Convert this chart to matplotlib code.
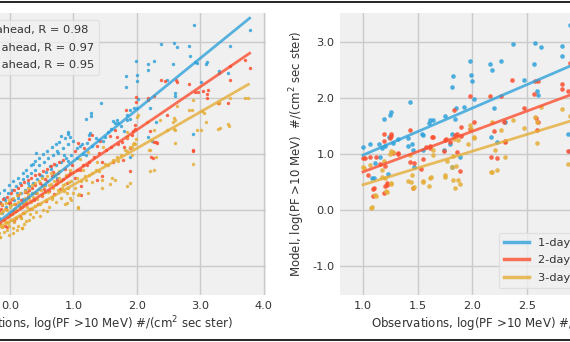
import numpy as np
import matplotlib
matplotlib.use("Agg")
import matplotlib.pyplot as plt
from matplotlib.ticker import FormatStrFormatter, MultipleLocator
from matplotlib.lines import Line2D

# ---- data read off the picture: (observation, model) pairs ----
# left panel, all events
left_1day = [
    (-0.40, -0.30), (-0.35, -0.15), (-0.30, -0.40), (-0.27, -0.05), (-0.24, -0.25), (-0.20, 0.05),
    (-0.17, -0.15), (-0.15, 0.15), (-0.12, -0.05), (-0.09, 0.22), (-0.06, 0.05), (-0.03, 0.30),
    (0.00, 0.10), (0.03, 0.35), (0.06, 0.18), (0.09, 0.42), (0.12, 0.22), (0.15, 0.48), (0.18, 0.30),
    (0.21, 0.55), (0.24, 0.36), (0.27, 0.60), (0.30, 0.42), (0.33, 0.66), (0.36, 0.48), (0.40, 0.72),
    (0.43, 0.55), (0.46, 0.80), (0.50, 0.60), (0.53, 0.86), (0.57, 0.68), (0.60, 0.92), (0.64, 0.74),
    (0.68, 0.98), (0.72, 0.80), (0.76, 1.02), (0.80, 0.86), (0.84, 1.10), (0.88, 0.92), (0.92, 1.18),
    (0.96, 0.98), (1.00, 1.24), (0.41, 1.02), (0.74, 1.06), (0.91, 1.36), (1.26, 1.37), (1.10, 1.14),
    (1.05, 1.11), (0.85, 0.99), (0.91, 0.87), (0.63, 0.79), (0.47, 0.62), (0.28, 0.48), (0.11, 0.30),
    (-0.08, 0.18), (1.50, 1.30), (1.20, 0.98), (0.74, 0.57), (0.36, 0.83), (0.81, 1.32), (1.13, 1.17),
    (1.21, 1.20), (1.47, 1.23), (1.24, 1.34), (0.91, 1.39), (1.05, 0.92), (1.15, 1.00), (1.30, 1.15),
    (1.35, 1.28), (1.40, 1.25), (1.55, 1.40), (1.60, 1.45), (1.70, 1.55), (1.75, 1.50), (1.85, 1.70),
    (1.90, 1.78), (1.83, 2.39), (1.83, 2.20), (1.43, 1.92), (1.27, 1.73), (1.28, 1.68), (1.20, 1.63),
    (1.62, 1.59), (1.65, 1.55), (1.68, 1.61), (1.84, 1.61), (1.80, 1.41), (2.00, 1.82),
    (-0.25, 0.20), (-0.18, 0.30), (-0.10, 0.36), (-0.02, 0.44), (0.05, 0.52), (0.12, 0.58),
    (0.20, 0.66), (0.26, 0.72), (0.33, 0.80), (0.39, 0.88), (0.45, 0.92), (0.52, 1.00), (0.58, 1.06),
    (0.66, 1.12), (0.72, 1.18), (0.78, 1.22), (0.86, 1.28), (0.94, 1.30), (0.20, 0.20), (0.35, 0.30),
    (0.55, 0.45), (0.70, 0.62),
    (2.90, 3.31), (3.78, 3.21), (2.38, 2.96), (2.59, 2.98), (2.64, 2.91), (2.83, 2.93), (2.84, 2.76),
    (1.99, 2.67), (2.17, 2.60), (2.18, 2.51), (2.27, 2.67), (2.57, 2.61), (2.92, 2.64), (2.95, 2.62),
    (3.11, 2.64), (3.09, 2.60), (3.47, 2.93), (3.29, 2.48), (3.29, 2.45), (3.44, 2.44), (2.00, 2.42),
    (2.01, 2.30), (2.47, 2.32), (2.60, 2.09), (2.60, 2.04), (3.01, 2.28), (2.02, 1.98), (1.95, 1.82),
    (2.21, 1.82), (1.89, 1.63), (2.30, 1.58), (2.24, 1.23), (2.88, 1.36), (2.18, 1.31), (1.89, 0.95),
]
left_2day = [
    (-0.42, -0.45), (-0.38, -0.30), (-0.34, -0.52), (-0.30, -0.22), (-0.27, -0.40), (-0.24, -0.12),
    (-0.21, -0.32), (-0.18, -0.02), (-0.15, -0.25), (-0.12, 0.08), (-0.10, -0.18), (-0.07, 0.02),
    (-0.05, -0.30), (-0.02, 0.12), (0.00, -0.08), (0.03, 0.20), (0.05, -0.02), (0.08, 0.10),
    (0.10, -0.15), (0.13, 0.26), (0.15, 0.05), (0.18, 0.18), (0.21, -0.06), (0.23, 0.32), (0.26, 0.12),
    (0.29, 0.24), (0.32, 0.02), (0.35, 0.40), (0.38, 0.18), (0.41, 0.30), (0.44, 0.10), (0.47, 0.48),
    (0.50, 0.25), (0.53, 0.38), (0.56, 0.16), (0.59, 0.52), (0.62, 0.34), (0.66, 0.60), (0.69, 0.28),
    (0.72, 0.46), (0.76, 0.66), (0.79, 0.38), (0.83, 0.56), (0.86, 0.74), (0.90, 0.48), (0.94, 0.66),
    (0.98, 0.80), (1.02, 0.58), (1.06, 0.72), (1.29, 1.34), (1.58, 1.32), (1.85, 1.29), (1.89, 1.11),
    (1.78, 0.89), (1.62, 0.86), (1.45, 0.85), (1.45, 0.60), (1.22, 0.80), (1.10, 0.71), (0.91, 0.62),
    (0.74, 0.54), (1.12, 0.43), (0.50, 0.45), (0.27, 0.32), (0.00, 0.14), (-0.14, 0.02), (0.16, -0.11),
    (1.12, 0.27), (1.37, 0.54), (1.07, 1.20), (1.83, 1.79), (1.66, 1.43), (1.68, 1.30), (1.42, 1.23),
    (1.24, 1.27), (1.17, 1.11), (1.80, 1.13), (1.37, 1.14), (1.03, 1.05), (1.15, 0.80), (1.25, 0.85),
    (1.33, 0.95), (1.40, 1.02), (1.52, 1.08), (1.60, 1.12), (1.70, 1.18), (1.77, 1.22),
    (-0.28, -0.05), (-0.22, 0.08), (-0.16, 0.12), (-0.11, 0.20), (-0.04, 0.24), (0.02, 0.30),
    (0.07, 0.36), (0.12, 0.40), (0.17, 0.44), (0.22, 0.50), (0.28, 0.54), (0.33, 0.58), (0.39, 0.62),
    (0.45, 0.64), (0.52, 0.70), (0.58, 0.74), (0.64, 0.78), (0.70, 0.82), (0.77, 0.86), (0.84, 0.90),
    (0.30, 0.36), (0.40, 0.45), (0.55, 0.55), (0.68, 0.68), (0.88, 0.60), (0.20, 0.10), (0.06, -0.20),
    (-0.08, -0.28),
    (2.38, 2.33), (2.62, 2.32), (2.64, 2.28), (2.83, 2.26), (2.92, 2.11), (2.97, 2.11), (3.11, 2.07),
    (3.10, 2.00), (3.47, 2.57), (3.47, 2.33), (3.78, 2.54), (3.71, 2.68), (3.29, 1.92), (3.44, 1.91),
    (1.99, 2.02), (1.99, 1.93), (2.17, 2.00), (2.18, 1.97), (2.27, 2.04), (2.48, 1.70), (3.04, 2.12),
    (1.97, 1.52), (2.21, 1.41), (1.92, 1.34), (2.31, 1.21), (2.89, 1.08), (2.27, 1.21), (2.32, 1.20),
    (2.22, 0.94), (2.25, 0.92), (2.89, 1.06), (1.89, 0.70), (1.94, 1.41), (1.97, 1.44), (3.13, 2.14),
    (2.45, 2.31), (3.28, 1.91),
]
left_3day = [
    (-0.45, -0.55), (-0.40, -0.35), (-0.38, -0.62), (-0.35, -0.45), (-0.32, -0.28), (-0.30, -0.52),
    (-0.28, -0.38), (-0.25, -0.20), (-0.24, -0.48), (-0.22, -0.33), (-0.20, -0.10), (-0.18, -0.42),
    (-0.16, -0.25), (-0.15, -0.49), (-0.14, -0.05), (-0.12, -0.30), (-0.10, -0.18), (-0.09, -0.40),
    (-0.08, 0.02), (-0.06, -0.22), (-0.05, -0.35), (-0.03, -0.12), (-0.02, -0.28), (0.00, 0.05),
    (0.01, -0.18), (0.03, -0.08), (0.04, -0.32), (0.06, 0.10), (0.07, -0.22), (0.09, -0.02),
    (0.10, -0.14), (0.12, 0.15), (0.13, -0.28), (0.15, 0.04), (0.17, -0.14), (0.19, -0.33),
    (0.20, 0.12), (0.22, -0.05), (0.24, 0.22), (0.26, -0.20), (0.27, 0.05), (0.29, 0.28), (0.31, -0.08),
    (0.33, 0.14), (0.35, 0.02), (0.37, 0.30), (0.39, 0.07), (0.41, -0.04), (0.43, 0.20), (0.45, 0.38),
    (0.47, 0.10), (0.50, 0.26), (0.52, 0.00), (0.54, 0.42), (0.57, 0.18), (0.60, 0.32), (0.62, 0.06),
    (0.65, 0.46), (0.67, 0.24), (0.70, 0.52), (0.72, 0.14), (0.75, 0.36), (0.78, 0.58), (0.80, 0.22),
    (0.83, 0.44), (0.86, 0.10), (0.88, 0.62), (0.90, 0.30), (0.93, 0.50), (0.96, 0.18), (0.99, 0.68),
    (1.02, 0.40), (1.05, 0.58), (1.08, 0.26), (0.17, -0.14), (-0.03, -0.23), (0.19, -0.32),
    (-0.13, -0.30), (0.66, 0.20), (0.82, 0.39), (0.95, 0.21), (1.07, 0.04), (1.23, 0.30), (1.20, 0.54),
    (1.45, 0.54), (1.61, 0.57), (1.70, 0.87), (1.81, 1.07), (1.47, 1.12), (1.23, 1.04), (1.10, 0.91),
    (0.94, 0.71), (1.66, 0.54), (1.84, 0.43), (1.58, 0.46), (1.45, 0.39), (1.09, 0.29), (0.90, 0.13),
    (1.07, 0.05), (0.19, -0.33), (-0.16, -0.49), (1.12, 0.52), (1.18, 0.60), (1.25, 0.62), (1.30, 0.66),
    (1.35, 0.72), (1.40, 0.70), (1.50, 0.82), (1.55, 0.80), (1.62, 0.90), (1.68, 0.95), (1.75, 0.98),
    (1.85, 1.05), (1.92, 1.12), (1.30, 0.50), (1.38, 0.85), (1.15, 0.72),
    (-0.30, -0.10), (-0.26, 0.00), (-0.22, -0.15), (-0.19, 0.05), (-0.17, -0.05), (-0.13, 0.10),
    (-0.11, -0.02), (-0.07, 0.12), (-0.04, 0.00), (-0.01, 0.18), (0.02, 0.08), (0.05, 0.22),
    (0.08, 0.02), (0.11, 0.26), (0.14, 0.10), (0.16, 0.30), (0.19, 0.05), (0.23, 0.34), (0.25, 0.16),
    (0.28, 0.40), (0.30, 0.20), (0.34, 0.44), (0.36, 0.24), (0.40, 0.48), (0.42, 0.30), (0.46, 0.52),
    (0.49, 0.36), (0.51, 0.58), (0.55, 0.32), (0.58, 0.60), (0.61, 0.44), (0.64, 0.66), (0.68, 0.40),
    (0.71, 0.64), (0.74, 0.48), (0.77, 0.70), (0.81, 0.52), (0.85, 0.34), (0.87, 0.46), (0.92, 0.40),
    (0.97, 0.52), (1.00, 0.30), (0.05, -0.42), (0.11, -0.36), (0.22, -0.25), (-0.02, -0.45),
    (0.30, -0.18), (0.36, -0.12), (0.48, -0.10), (0.58, -0.02),
    (3.71, 2.00), (3.76, 2.00), (3.47, 2.00), (3.29, 1.91), (2.89, 1.96), (2.87, 1.79), (3.03, 1.77),
    (3.06, 1.74), (3.09, 1.58), (3.44, 1.54), (3.46, 1.50), (3.28, 1.45), (3.31, 1.47), (3.01, 1.43),
    (2.58, 1.64), (2.61, 1.60), (2.57, 1.57), (2.63, 1.85), (2.59, 1.45), (2.83, 1.79), (2.37, 1.61),
    (2.47, 1.43), (2.27, 1.43), (2.60, 1.20), (2.00, 1.66), (2.02, 1.70), (2.16, 1.57), (2.21, 1.08),
    (1.94, 1.17), (1.97, 1.17), (1.99, 1.27), (1.96, 1.20), (2.20, 1.08), (2.21, 0.70), (2.27, 0.72),
    (2.31, 0.95), (2.89, 0.83), (1.89, 0.49), (1.92, 0.98), (2.61, 1.43), (2.95, 1.43), (2.23, 1.25),
    (1.84, 1.31), (1.85, 1.39), (1.89, 1.13),
]

# right panel, subset of events
right_1day = [
    (1.00, 1.12), (1.06, 1.17), (1.15, 1.18), (1.17, 1.11), (1.20, 1.14), (1.24, 1.30), (1.27, 1.20),
    (1.32, 1.26), (1.41, 1.29), (1.45, 1.17), (1.41, 1.15), (1.55, 1.08), (1.74, 1.07), (1.81, 1.35),
    (1.46, 1.08), (1.19, 1.63), (1.25, 1.70), (1.26, 1.75), (1.43, 1.93), (1.61, 1.61), (1.64, 1.61),
    (1.60, 1.55), (1.75, 1.68), (1.54, 1.35), (1.82, 2.39), (1.81, 2.20), (1.11, 0.84), (1.16, 0.95),
    (1.23, 0.65), (1.08, 0.57), (1.10, 0.58), (1.47, 0.77), (1.81, 0.77), (1.80, 1.18), (1.55, 1.34),
    (2.89, 3.31), (2.37, 2.96), (2.57, 2.98), (2.63, 2.92), (2.82, 2.93), (2.82, 2.76), (1.98, 2.67),
    (2.16, 2.60), (2.18, 2.51), (2.26, 2.67), (2.56, 2.61), (1.99, 2.42), (2.00, 2.30), (2.47, 2.32),
    (2.59, 2.12), (2.60, 2.06), (2.02, 1.98), (1.85, 1.82), (1.92, 1.84), (2.20, 1.82), (1.84, 1.63),
    (2.30, 1.58), (2.17, 1.30), (2.23, 1.22), (2.88, 1.35), (2.89, 1.05), (1.89, 0.95),
]
right_2day = [
    (1.00, 0.92), (1.02, 0.93), (1.06, 0.94), (1.12, 0.95), (1.16, 0.83), (1.20, 0.79), (1.22, 0.48),
    (1.09, 0.37), (1.19, 0.30), (1.09, 0.25), (1.10, 0.40), (1.20, 0.43), (1.22, 0.45), (1.46, 0.40),
    (1.05, 0.62), (1.19, 1.23), (1.25, 1.29), (1.26, 1.36), (1.26, 1.33), (1.19, 1.36), (1.27, 1.02),
    (1.32, 1.01), (1.32, 1.00), (1.43, 1.43), (1.43, 0.86), (1.47, 0.84), (1.53, 0.74), (1.55, 0.91),
    (1.58, 1.13), (1.61, 1.11), (1.61, 1.14), (1.63, 1.30), (1.64, 1.31), (1.74, 1.06), (1.76, 1.26),
    (1.75, 1.25), (1.80, 1.22), (1.83, 1.79), (1.84, 1.34), (1.86, 1.36), (1.86, 1.04), (1.89, 0.70),
    (1.90, 1.49), (1.90, 1.32), (1.98, 2.04), (1.98, 1.45), (2.02, 1.58), (2.16, 2.03), (2.20, 1.41),
    (2.17, 0.95), (2.23, 0.92), (2.26, 2.04), (2.29, 1.58), (2.30, 1.23), (2.30, 1.22), (2.36, 2.32),
    (2.47, 1.82), (2.56, 2.07), (2.57, 2.31), (2.60, 2.30), (2.58, 1.64), (2.59, 1.43), (2.60, 1.58),
    (2.82, 2.25), (2.82, 2.17), (2.88, 2.12), (2.89, 2.62), (2.88, 1.06),
]
right_3day = [
    (1.00, 0.76), (1.01, 0.75), (1.06, 0.80), (1.17, 0.71), (1.19, 0.87), (1.27, 1.04), (1.25, 1.00),
    (1.17, 0.59), (1.20, 0.57), (1.11, 0.26), (1.08, 0.05), (1.07, 0.04), (1.12, 0.25), (1.21, 0.33),
    (1.22, 0.32), (1.26, 0.48), (1.26, 0.46), (1.43, 0.98), (1.45, 0.63), (1.41, 0.51), (1.44, 0.50),
    (1.47, 0.41), (1.46, 0.40), (1.55, 0.51), (1.55, 0.50), (1.61, 0.57), (1.62, 0.59), (1.60, 0.43),
    (1.75, 0.63), (1.75, 0.59), (1.77, 0.88), (1.81, 0.76), (1.82, 0.96), (1.64, 0.98), (1.26, 1.05),
    (1.83, 1.26), (1.64, 1.08), (1.82, 0.54), (1.84, 0.40), (1.89, 0.47), (1.87, 0.54), (1.85, 0.79),
    (1.98, 1.52), (1.99, 1.45), (2.02, 1.30), (1.96, 1.17), (2.18, 1.58), (2.26, 1.43), (2.37, 1.61),
    (2.47, 1.46), (2.57, 1.67), (2.59, 1.57), (2.63, 1.84), (2.82, 1.80), (2.89, 1.68), (2.21, 1.08),
    (2.59, 1.20), (1.87, 1.25), (2.02, 1.28), (2.30, 0.94), (2.17, 0.67), (2.23, 0.71), (2.88, 0.83),
    (2.18, 0.67),
]

# regression lines
left_slope = [0.92, 0.77, 0.65]
left_intercept = [-0.05, -0.11, -0.20]
left_r = [0.98, 0.97, 0.95]
right_slope = [0.84, 0.725, 0.60]
right_intercept = [0.14, -0.045, -0.15]

labels = ["1-day ahead", "2-days ahead", "3-days ahead"]
colors = ["#30a2da", "#fc4f30", "#e5ae38"]
xlabel = "Observations, log(PF >10 MeV) #/(cm$^2$ sec ster)"
ylabel = "Model, log(PF >10 MeV)  #/(cm$^2$ sec ster)"

W, H = 570, 342
TXT = "#333333"


def style_axes(ax):
    ax.set_facecolor("#f0f0f0")
    for s in ax.spines.values():
        s.set_visible(False)
    ax.grid(True, color="#cbcbcb", lw=1)
    ax.set_axisbelow(True)
    ax.tick_params(length=0, labelsize=8.2, colors=TXT, pad=4)
    ax.xaxis.set_major_formatter(FormatStrFormatter("%.1f"))
    ax.yaxis.set_major_formatter(FormatStrFormatter("%.1f"))
    ax.set_ylim(-1.52, 3.52)
    ax.yaxis.set_major_locator(MultipleLocator(1.0))


def draw(ax, series, slopes, intercepts, size, names):
    handles = []
    for pts, k, b, c, name in zip(series, slopes, intercepts, colors, names):
        obs = np.array([p[0] for p in pts])
        mod = np.array([p[1] for p in pts])
        ax.scatter(obs, mod, s=size, color=c, alpha=0.85, lw=0, zorder=2)
        xx = np.array([obs.min(), obs.max()])
        h, = ax.plot(xx, k * xx + b, color=c, lw=2, alpha=0.8, label=name, zorder=3)
        handles.append(h)
    return handles


def frame(leg):
    leg.get_frame().set_facecolor("#f0f0f0")
    leg.get_frame().set_edgecolor("#dddddd")
    for t in leg.get_texts():
        t.set_color(TXT)


fig = plt.figure(figsize=(W / 100, H / 100), dpi=100)
fig.patch.set_facecolor("white")

# left panel (its left side is cut off in the reference)
l_left, l_right = -84.0, 266.0
ax1 = fig.add_axes([l_left / W, (H - 295) / H, (l_right - l_left) / W, 282 / H])
style_axes(ax1)
ax1.set_xlim((l_left - 10) / 63.4, (l_right - 10) / 63.4)
ax1.xaxis.set_major_locator(MultipleLocator(1.0))
names1 = [f"{n}, R = {r:.2f}" for n, r in zip(labels, left_r)]
h1 = draw(ax1, [left_1day, left_2day, left_3day], left_slope, left_intercept, 6, names1)
ax1.set_xlabel(xlabel, fontsize=8.5, color=TXT, labelpad=3)
leg1 = ax1.legend(handles=h1, loc="upper right", fontsize=8.2, labelspacing=0.7,
                  bbox_to_anchor=((99 - l_left) / (l_right - l_left), (295 - 20) / 282),
                  borderaxespad=0, frameon=True, fancybox=True, handlelength=2.2)
frame(leg1)

# right panel (its right side is cut off in the reference)
r_left, r_right = 340.0, 688.0
ax2 = fig.add_axes([r_left / W, (H - 295) / H, (r_right - r_left) / W, 282 / H])
style_axes(ax2)
ax2.set_xlim(1.0 + (r_left - 363) / 109.3, 1.0 + (r_right - 363) / 109.3)
ax2.xaxis.set_major_locator(MultipleLocator(0.5))
h2 = draw(ax2, [right_1day, right_2day, right_3day], right_slope, right_intercept, 11, labels)
ax2.set_xlabel(xlabel, fontsize=8.5, color=TXT, labelpad=3)
ax2.set_ylabel(ylabel, fontsize=8.5, color=TXT, labelpad=4)
leg2 = ax2.legend(handles=h2, loc="lower left", fontsize=8.2, labelspacing=0.7,
                  bbox_to_anchor=((499 - r_left) / (r_right - r_left), (295 - 288) / 282),
                  borderaxespad=0, frameon=True, fancybox=True, handlelength=2.2)
frame(leg2)
for ln in leg2.get_lines():
    ln.set_linewidth(2.5)

# black frame lines from the page crop
fig.add_artist(Line2D([0, 1], [1 - 1.5 / H, 1 - 1.5 / H], color="black", lw=1.2))
fig.add_artist(Line2D([0, 1], [1.7 / H, 1.7 / H], color="black", lw=1.2))

fig.savefig("out.png", dpi=100, facecolor="white")
